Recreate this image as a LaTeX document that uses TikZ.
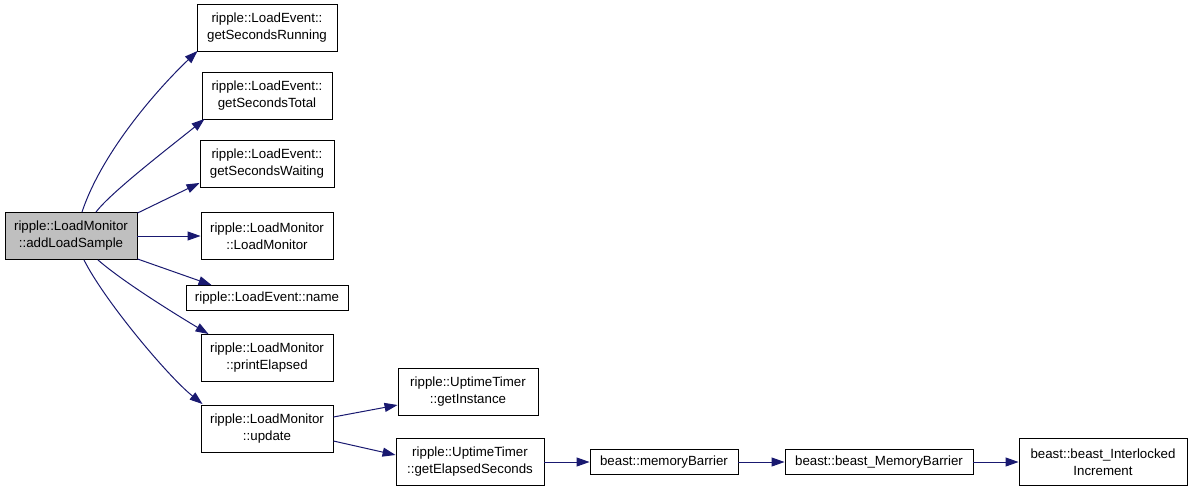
\documentclass[tikz,border=0pt]{standalone}
\usepackage{fontspec}
\setmainfont{Liberation Sans}
\usetikzlibrary{arrows.meta}
\definecolor{edgec}{HTML}{191970}
\definecolor{grayfill}{HTML}{BFBFBF}
\tikzset{
  fn/.style={draw=black, line width=0.9pt, fill=white, align=center, inner sep=0pt,
    font=\fontsize{13.3}{17}\selectfont},
  cur/.style={fn, fill=grayfill},
  edge/.style={draw=edgec, line width=1pt, -{Triangle[length=13pt,width=9pt]}},
}
\begin{document}
\begin{tikzpicture}[x=1pt,y=-1pt]
\useasboundingbox (0,0) rectangle (1192,491);
\node[cur, minimum width=132pt, minimum height=47pt] (add) at (71,236) {ripple::LoadMonitor\\::addLoadSample};
\node[fn, minimum width=140pt, minimum height=47pt] (run) at (267,28) {ripple::LoadEvent::\\getSecondsRunning};
\node[fn, minimum width=130pt, minimum height=47pt] (total) at (267,96) {ripple::LoadEvent::\\getSecondsTotal};
\node[fn, minimum width=134pt, minimum height=47pt] (wait) at (267,164) {ripple::LoadEvent::\\getSecondsWaiting};
\node[fn, minimum width=132pt, minimum height=47pt] (lm) at (267,236) {ripple::LoadMonitor\\::LoadMonitor};
\node[fn, minimum width=162pt, minimum height=25pt] (name) at (267,298) {ripple::LoadEvent::name};
\node[fn, minimum width=132pt, minimum height=47pt] (print) at (267,358) {ripple::LoadMonitor\\::printElapsed};
\node[fn, minimum width=132pt, minimum height=47pt] (update) at (267,429) {ripple::LoadMonitor\\::update};
\node[fn, minimum width=140pt, minimum height=47pt] (inst) at (468,392) {ripple::UptimeTimer\\::getInstance};
\node[fn, minimum width=148pt, minimum height=47pt] (elap) at (470,462) {ripple::UptimeTimer\\::getElapsedSeconds};
\node[fn, minimum width=148pt, minimum height=25pt] (mem) at (664,462) {beast::memoryBarrier};
\node[fn, minimum width=188pt, minimum height=25pt] (bmem) at (879,462) {beast::beast\_MemoryBarrier};
\node[fn, minimum width=168pt, minimum height=47pt] (inter) at (1103,462) {beast::beast\_Interlocked\\Increment};

\draw[edge] ([xshift=11pt]add.north) .. controls +(20,-60) and +(-40,38) .. ([xshift=1pt,yshift=1pt]run.south west);
\draw[edge] ([xshift=25pt]add.north) .. controls +(15,-20) and +(-32,26) .. ([xshift=3pt,yshift=1pt]total.south west);
\draw[edge] ([yshift=-1pt]add.north east) -- ([yshift=5pt]wait.south west);
\draw[edge] (add) -- (lm);
\draw[edge] ([yshift=1pt]add.south east) -- ([xshift=26pt]name.north west);
\draw[edge] ([xshift=27pt]add.south) .. controls +(25,22) and +(-30,-18) .. ([xshift=8pt]print.north west);
\draw[edge] ([xshift=13pt]add.south) .. controls +(20,40) and +(-35,-28) .. ([xshift=2pt,yshift=1pt]update.north west);
\draw[edge] ([yshift=12pt]update.east) -- ([yshift=-13pt]inst.west);
\draw[edge] ([yshift=-12pt]update.east) -- ([yshift=7pt]elap.west);
\draw[edge] (elap) -- (mem);
\draw[edge] (mem) -- (bmem);
\draw[edge] (bmem) -- (inter);
\end{tikzpicture}
\end{document}
